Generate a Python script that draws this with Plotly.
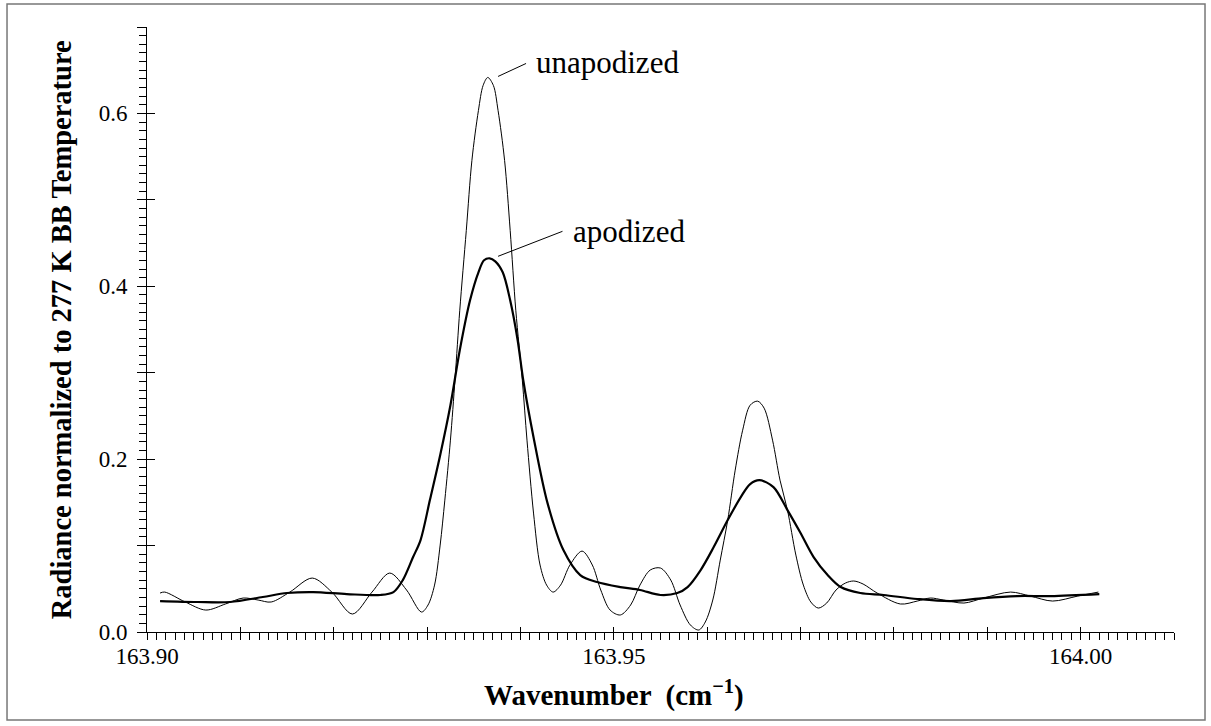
import plotly.graph_objects as go

# ---------------- data ----------------
unapod_x = [163.9014, 163.9019, 163.9041, 163.9063, 163.9084, 163.9103, 163.9119, 163.9133,
            163.9153, 163.9177, 163.9198, 163.9220, 163.9241, 163.9260, 163.9278, 163.9294,
            163.9301, 163.9308, 163.9314, 163.9319, 163.9325, 163.9330, 163.9335, 163.9342,
            163.9348, 163.9355, 163.9360, 163.9365, 163.9371, 163.9376, 163.9383, 163.9389,
            163.9395, 163.9402, 163.9407, 163.9414, 163.9421, 163.9428, 163.9435, 163.9443,
            163.9453, 163.9466, 163.9477, 163.9486, 163.9496, 163.9507, 163.9518, 163.9528,
            163.9539, 163.9550, 163.9561, 163.9571, 163.9582, 163.9591, 163.9598, 163.9606,
            163.9614, 163.9622, 163.9630, 163.9638, 163.9646, 163.9654, 163.9661, 163.9670,
            163.9678, 163.9686, 163.9695, 163.9703, 163.9711, 163.9719, 163.9728, 163.9738,
            163.9748, 163.9757, 163.9767, 163.9782, 163.9807, 163.9825, 163.9839, 163.9853,
            163.9875, 163.9896, 163.9925, 163.9946, 163.9970, 163.9997, 164.0019]
unapod_y = [0.0451, 0.0462, 0.0347, 0.0254, 0.0324, 0.0393, 0.0370, 0.0347,
            0.0462, 0.0624, 0.0462, 0.0208, 0.0462, 0.0682, 0.0486, 0.0231,
            0.0312, 0.0543, 0.1006, 0.1526, 0.2220, 0.2936, 0.3723, 0.4647,
            0.5457, 0.6035, 0.6324, 0.6416, 0.6324, 0.6035, 0.5457, 0.4647,
            0.3723, 0.2913, 0.2220, 0.1376, 0.0775, 0.0543, 0.0462, 0.0543,
            0.0775, 0.0936, 0.0775, 0.0486, 0.0254, 0.0197, 0.0312, 0.0543,
            0.0717, 0.0740, 0.0601, 0.0312, 0.0081, 0.0023, 0.0116, 0.0370,
            0.0832, 0.1295, 0.1873, 0.2335, 0.2624, 0.2671, 0.2590, 0.2220,
            0.1757, 0.1410, 0.0890, 0.0543, 0.0347, 0.0277, 0.0335, 0.0486,
            0.0566, 0.0590, 0.0555, 0.0451, 0.0324, 0.0358, 0.0393, 0.0370,
            0.0335, 0.0393, 0.0462, 0.0416, 0.0358, 0.0416, 0.0462]

apod_x = [163.9014, 163.9054, 163.9089, 163.9124, 163.9150, 163.9178, 163.9214, 163.9250,
          163.9264, 163.9274, 163.9285, 163.9293, 163.9303, 163.9314, 163.9325, 163.9335,
          163.9346, 163.9355, 163.9361, 163.9367, 163.9373, 163.9381, 163.9389, 163.9397,
          163.9403, 163.9414, 163.9429, 163.9446, 163.9464, 163.9482, 163.9507, 163.9528,
          163.9550, 163.9568, 163.9579, 163.9593, 163.9607, 163.9622, 163.9636, 163.9646,
          163.9656, 163.9671, 163.9686, 163.9700, 163.9714, 163.9729, 163.9743, 163.9764,
          163.9789, 163.9825, 163.9861, 163.9896, 163.9932, 163.9968, 164.0020]
apod_y = [0.0358, 0.0347, 0.0347, 0.0405, 0.0451, 0.0462, 0.0439, 0.0428,
          0.0462, 0.0601, 0.0867, 0.1064, 0.1526, 0.2046, 0.2624, 0.3260,
          0.3838, 0.4162, 0.4301, 0.4324, 0.4289, 0.4162, 0.3838, 0.3376,
          0.2913, 0.2254, 0.1491, 0.0948, 0.0659, 0.0578, 0.0520, 0.0486,
          0.0428, 0.0451, 0.0520, 0.0717, 0.0983, 0.1295, 0.1561, 0.1711,
          0.1757, 0.1676, 0.1410, 0.1145, 0.0867, 0.0659, 0.0520, 0.0451,
          0.0428, 0.0382, 0.0358, 0.0393, 0.0416, 0.0416, 0.0439]

x_tickvals = [163.90, 163.91, 163.92, 163.93, 163.94, 163.95, 163.96, 163.97,
              163.98, 163.99, 164.00, 164.01]
x_ticktext = ["163.90", " ", " ", " ", " ", "163.95", " ", " ", " ", " ", "164.00", " "]
y_tickvals = [0.0, 0.1, 0.2, 0.3, 0.4, 0.5, 0.6, 0.7]
y_ticktext = ["0.0", " ", "0.2", " ", "0.4", " ", "0.6", " "]

x_range = [163.90, 164.01]
y_range = [0.0, 0.7]

label_unapod = "unapodized"
label_apod = "apodized"
x_title = "Wavenumber  (cm<sup>−1</sup>)"
y_title = "Radiance normalized to 277 K BB Temperature"

SERIF = "Liberation Serif"

fig = go.Figure()
fig.add_trace(go.Scatter(x=unapod_x, y=unapod_y, mode="lines",
                         line=dict(color="black", width=1, shape="spline", smoothing=0.9),
                         xaxis="x2", yaxis="y2", showlegend=False, hoverinfo="skip"))
fig.add_trace(go.Scatter(x=apod_x, y=apod_y, mode="lines",
                         line=dict(color="black", width=2.2, shape="spline", smoothing=0.9),
                         showlegend=False, hoverinfo="skip"))

axis_font = dict(family=SERIF, size=23, color="black")
fig.update_layout(
    width=1211, height=726,
    margin=dict(l=147, r=37, t=27, b=94),
    paper_bgcolor="white", plot_bgcolor="white",
    font=dict(family=SERIF, color="black"),
    xaxis=dict(range=x_range, tickmode="array", tickvals=x_tickvals, ticktext=x_ticktext,
               ticks="outside", ticklen=7, tickwidth=1, tickcolor="black",
               minor=dict(dtick=0.001, tick0=163.90, ticks="outside", ticklen=7,
                          tickwidth=1, tickcolor="black", showgrid=False),
               showline=True, linecolor="black", linewidth=1, showgrid=False,
               zeroline=False, tickfont=axis_font, ticklabelstandoff=-4),
    yaxis=dict(range=y_range, tickmode="array", tickvals=y_tickvals, ticktext=y_ticktext,
               ticks="outside", ticklen=9, tickwidth=1, tickcolor="black",
               minor=dict(dtick=0.01, tick0=0, ticks="outside", ticklen=7,
                          tickwidth=1, tickcolor="black", showgrid=False),
               showline=True, linecolor="black", linewidth=1, showgrid=False,
               zeroline=False, tickfont=axis_font, ticklabelstandoff=5),
    xaxis2=dict(range=x_range, overlaying="x", anchor="y", side="bottom",
                tickmode="array", tickvals=x_tickvals, showticklabels=False,
                ticks="inside", ticklen=5, tickwidth=1, tickcolor="black",
                showline=False, showgrid=False, zeroline=False),
    yaxis2=dict(range=y_range, overlaying="y", anchor="x", side="left",
                tickmode="array", tickvals=y_tickvals, showticklabels=False,
                ticks="inside", ticklen=8, tickwidth=1, tickcolor="black",
                showline=False, showgrid=False, zeroline=False),
)

# axis titles
fig.add_annotation(text=x_title, x=163.95, xref="x", y=-0.101, yref="paper",
                   xanchor="center", yanchor="middle", showarrow=False,
                   font=dict(family=SERIF, size=29, color="black", weight="bold"))
fig.add_annotation(text=y_title, x=-0.083, xref="paper", y=0.5, yref="paper",
                   textangle=-90, xanchor="center", yanchor="middle", showarrow=False,
                   font=dict(family=SERIF, size=28.5, color="black", weight="bold"))

# curve labels
fig.add_annotation(text=label_unapod, x=163.9415, y=0.659, xref="x", yref="y",
                   xanchor="left", yanchor="middle", showarrow=False,
                   font=dict(family=SERIF, size=31, color="black"))
fig.add_annotation(text=label_apod, x=163.9454, y=0.4636, xref="x", yref="y",
                   xanchor="left", yanchor="middle", showarrow=False,
                   font=dict(family=SERIF, size=31, color="black"))

# leader lines
fig.add_shape(type="line", x0=163.9376, y0=0.6428, x1=163.9406, y1=0.6578,
              xref="x", yref="y", line=dict(color="black", width=1))
fig.add_shape(type="line", x0=163.9376, y0=0.4347, x1=163.9445, y1=0.4636,
              xref="x", yref="y", line=dict(color="black", width=1))

# outer frame
fig.add_shape(type="rect", xref="paper", yref="paper",
              x0=-0.1363, x1=1.0302, y0=-0.1455, y1=1.038,
              line=dict(color="#777777", width=1.5), layer="below")

fig.write_html("out.html")
